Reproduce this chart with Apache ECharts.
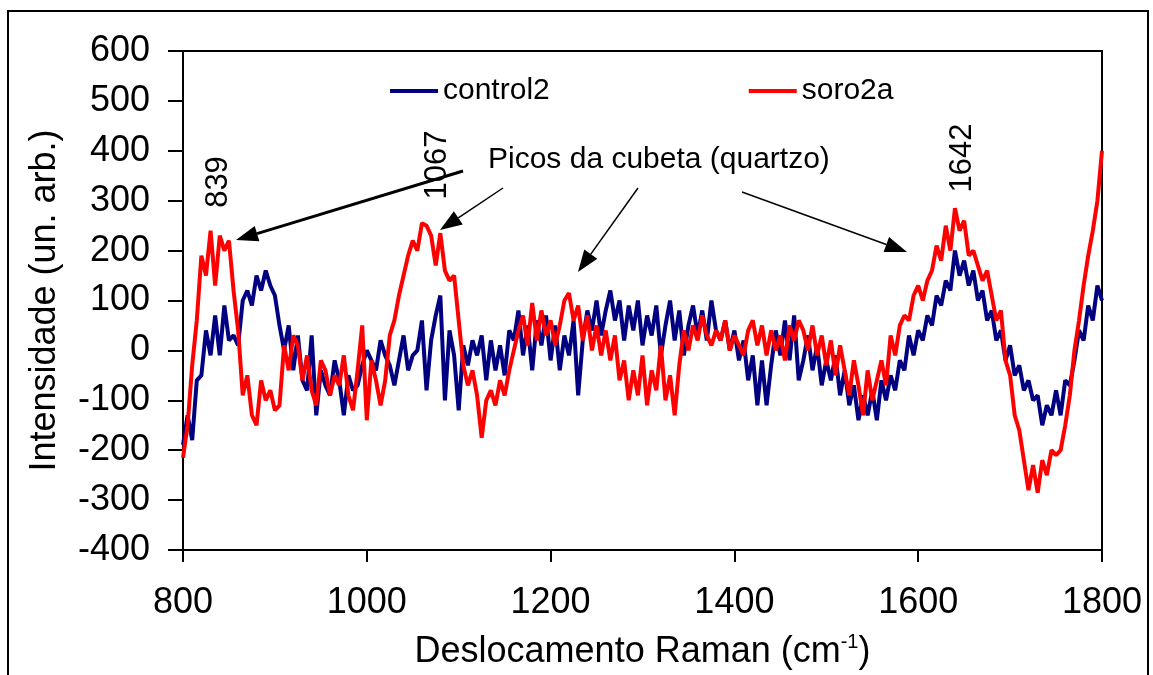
<!DOCTYPE html>
<html>
<head>
<meta charset="utf-8">
<title>Raman</title>
<script src="https://cdn.jsdelivr.net/npm/echarts@6/dist/echarts.min.js"></script>
<style>
  html, body { margin: 0; padding: 0; background: #fff; }
  #main { width: 1153px; height: 675px; }
</style>
</head>
<body>
<div id="main"></div>
<script>
// sampling of the Raman shift axis (cm-1)
var shiftStart = 800;
var shiftStep = 5;

var seriesNames = ['control2', 'soro2a'];

// control2, every 5 cm-1 from 800 to 1800
var control2 = [
  -189, -130, -180, -60, -50, 40, -10, 70, -10, 90,          // 800-845
  20, 30, 10, 100, 120, 90, 150, 120, 160, 130,             // 850-895
  110, 50, 0, 50, -40, 30, -60, -80, 30, -130,              // 900-945
  -40, -70, -90, -20, -60, -130, -50, -80, -70, -30,        // 950-995
  0, -20, -40, 20, -10, -30, -70, -20, 30, -40,             // 1000-1045
  -10, 0, 60, -80, 20, 70, 110, -100, 40, -10,              // 1050-1095
  -120, 10, -30, 20, -10, 30, -60, 20, -40, 10,             // 1100-1145
  -50, 40, 20, 80, -10, 50, -40, 60, 10, 70,                // 1150-1195
  -20, 50, -40, 30, -10, 60, -90, 20, 80, 40,               // 1200-1245
  100, 30, 80, 120, 60, 100, 20, 90, 40, 100,               // 1250-1295
  10, 70, 30, 90, -10, 50, 100, 20, 80, -10,                // 1300-1345
  50, 90, 30, 80, 20, 100, 40, 20, 60, 0,                   // 1350-1395
  40, -20, 20, -60, -10, -110, -20, -110, -30, 40,          // 1400-1445
  -10, 60, -20, 70, -60, -20, 30, -40, 10, -70,             // 1450-1495
  -20, -60, -10, -90, -40, -110, -70, -140, -90, -130,      // 1500-1545
  -80, -140, -60, -100, -50, -80, -20, -40, 30, -10,        // 1550-1595
  40, 20, 70, 50, 110, 90, 140, 120, 200, 150,              // 1600-1645
  180, 130, 160, 100, 120, 60, 80, 20, 40, -20,             // 1650-1695
  10, -50, -30, -80, -60, -100, -90, -150, -110, -130,      // 1700-1745
  -80, -130, -60, -70, -20, 40, 20, 90, 60, 130,            // 1750-1795
  100                                                       // 1800
];

// soro2a, same sampling
var soro2a = [
  -215, -150, -30, 60, 190, 150, 240, 130, 230, 200,        // 800-845
  220, 120, 40, -90, -50, -130, -150, -60, -100, -80,       // 850-895
  -120, -110, 10, -40, 30, 10, -60, -10, -80, -110,         // 900-945
  -20, -40, -90, -50, -70, -10, -90, -120, -40, 50,         // 950-995
  -140, -20, -60, -110, -60, 30, 60, 110, 150, 190,         // 1000-1045
  220, 200, 255, 250, 230, 170, 235, 160, 140, 150,         // 1050-1095
  60, -30, -70, -40, -90, -175, -100, -80, -110, -60,       // 1100-1145
  -90, -40, 0, 40, 70, 10, 95, 20, 80, 30,                  // 1150-1195
  60, 10, 50, 100, 115, 60, 90, 20, 70, 0,                  // 1200-1245
  50, -10, 40, -20, 30, -60, -20, -100, -40, -90,           // 1250-1295
  -10, -110, -40, -80, 10, -100, -50, -130, -30, 40,        // 1300-1345
  0, 50, 20, 70, 30, 10, 40, 20, 60, 0,                     // 1350-1395
  30, 10, -10, 40, 60, 10, 50, -10, 40, 0,                  // 1400-1445
  30, -20, 50, 20, 60, 40, 0, 50, -10, 30,                  // 1450-1495
  -30, 20, -50, 10, -40, -90, -20, -70, -130, -40,          // 1500-1545
  -100, -60, -20, -70, 30, -10, 50, 70, 60, 110,            // 1550-1595
  130, 100, 140, 160, 210, 180, 250, 200, 285, 240,         // 1600-1645
  260, 190, 200, 170, 140, 160, 110, 60, 80, -20,           // 1650-1695
  -50, -130, -160, -220, -280, -230, -285, -220, -250, -200,// 1700-1745
  -210, -200, -150, -90, 0, 60, 130, 190, 240, 300,         // 1750-1795
  400                                                       // 1800
];

var xTicks = [800, 1000, 1200, 1400, 1600, 1800];
var yTicks = [-400, -300, -200, -100, 0, 100, 200, 300, 400, 500, 600];

var peakLabels = ['839', '1067', '1642'];
var noteText = 'Picos da cubeta (quartzo)';

function toPairs(values) {
  var out = [];
  for (var i = 0; i < values.length; i++) {
    out.push([shiftStart + i * shiftStep, values[i]]);
  }
  return out;
}

// arrow = line + filled head, pixel coords of the annotation layer
function arrow(x1, y1, x2, y2, w) {
  var ang = Math.atan2(y2 - y1, x2 - x1);
  var L = 22, H = 8;
  var bx = x2 - L * Math.cos(ang), by = y2 - L * Math.sin(ang);
  var px = -Math.sin(ang) * H, py = Math.cos(ang) * H;
  return [
    { type: 'line', shape: { x1: x1, y1: y1, x2: bx, y2: by }, style: { stroke: '#000', lineWidth: w } },
    { type: 'polygon', shape: { points: [[x2, y2], [bx + px, by + py], [bx - px, by - py]] }, style: { fill: '#000' } }
  ];
}

var font = 'Liberation Sans, Arial, sans-serif';

function vText(txt, x, y) {
  return {
    type: 'text', x: x, y: y, rotation: Math.PI / 2,
    style: { text: txt, font: '31px ' + font, fill: '#000', align: 'center', verticalAlign: 'middle' }
  };
}

var graphics = [
  { type: 'rect', shape: { x: 8, y: 11, width: 1140, height: 700 }, style: { fill: 'none', stroke: '#000', lineWidth: 2 }, z: -1 },
  vText(peakLabels[0], 218, 182),
  vText(peakLabels[1], 437, 165),
  vText(peakLabels[2], 962, 158),
  {
    type: 'text', x: 488, y: 160,
    style: { text: noteText, font: '30px ' + font, fill: '#000', align: 'left', verticalAlign: 'middle' }
  }
]
  .concat(arrow(463, 171, 236, 240, 3))
  .concat(arrow(503, 188, 440, 230, 1.5))
  .concat(arrow(638, 188, 578, 272, 1.5))
  .concat(arrow(742, 192, 907, 252, 1.5));

var chart = echarts.init(document.getElementById('main'), null, { renderer: 'canvas' });

var option = {
  animation: false,
  backgroundColor: '#fff',
  textStyle: { fontFamily: font },
  grid: {
    left: 183, right: 51, top: 51, bottom: 122,
    show: true, borderColor: '#000', borderWidth: 2, backgroundColor: 'transparent'
  },
  legend: {
    data: seriesNames,
    left: 390, top: 76,
    icon: 'rect',
    itemWidth: 48, itemHeight: 4,
    itemGap: 199,
    padding: 0,
    textStyle: { fontSize: 30, color: '#000', fontFamily: font }
  },
  xAxis: {
    type: 'value',
    min: xTicks[0], max: xTicks[xTicks.length - 1], interval: 200,
    name: '{t|Deslocamento Raman (cm}{s|-1}{t|)}',
    nameLocation: 'middle', nameGap: 82,
    nameTextStyle: {
      rich: {
        t: { fontSize: 36, fontFamily: font, color: '#000', lineHeight: 40 },
        s: { fontSize: 20, fontFamily: font, color: '#000', verticalAlign: 'top', lineHeight: 20 }
      }
    },
    axisLine: { onZero: false, lineStyle: { color: '#000', width: 2 } },
    axisTick: { inside: false, length: 12, lineStyle: { color: '#000', width: 2 } },
    axisLabel: {
      fontSize: 36, color: '#000', margin: 35, fontFamily: font,
      formatter: function (v) { return String(v); }
    },
    splitLine: { show: false }
  },
  yAxis: {
    type: 'value',
    min: yTicks[0], max: yTicks[yTicks.length - 1], interval: 100,
    name: 'Intensidade (un. arb.)',
    nameLocation: 'middle', nameGap: 120,
    nameTextStyle: { fontSize: 36, color: '#000', fontFamily: font },
    axisLine: { onZero: false, lineStyle: { color: '#000', width: 2 } },
    axisTick: { inside: false, length: 15, lineStyle: { color: '#000', width: 2 } },
    axisLabel: {
      fontSize: 36, color: '#000', margin: 33, fontFamily: font,
      formatter: function (v) { return String(v); }
    },
    splitLine: { show: false }
  },
  series: [
    {
      name: seriesNames[0], type: 'line', data: toPairs(control2),
      showSymbol: false, symbol: 'none',
      lineStyle: { color: '#000080', width: 4 }, itemStyle: { color: '#000080' }
    },
    {
      name: seriesNames[1], type: 'line', data: toPairs(soro2a),
      showSymbol: false, symbol: 'none',
      lineStyle: { color: '#ff0000', width: 4 }, itemStyle: { color: '#ff0000' }
    }
  ],
  graphic: graphics
};

chart.setOption(option);
</script>
</body>
</html>
